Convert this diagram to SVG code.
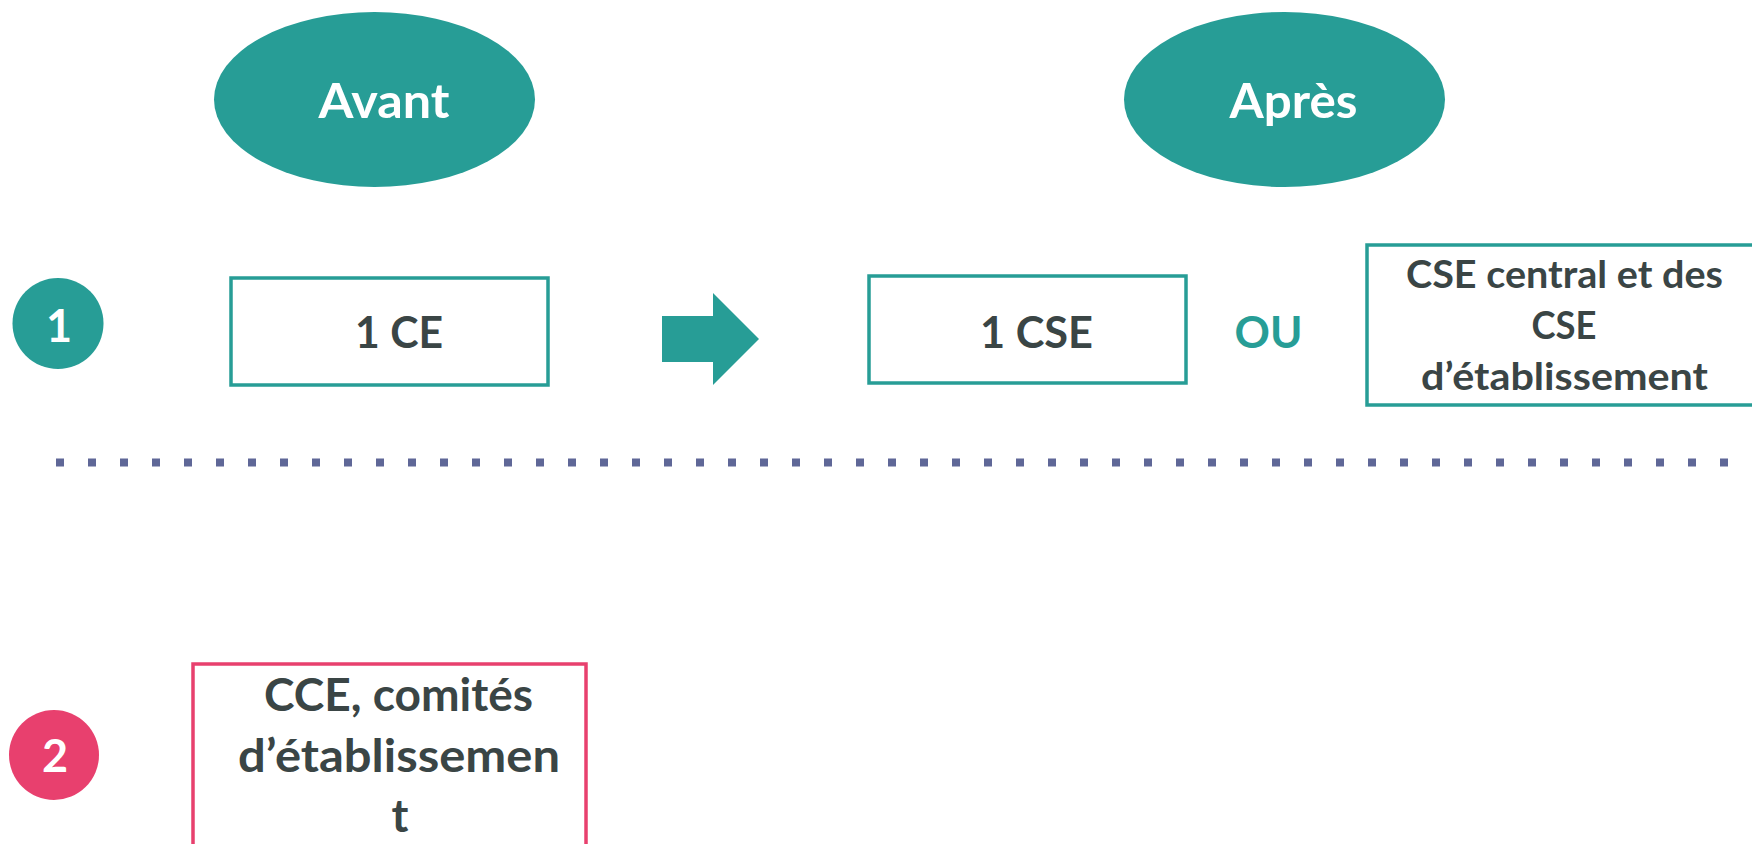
<svg xmlns="http://www.w3.org/2000/svg" width="1752" height="844" viewBox="0 0 1752 844">
  <style>
    .t { font-family: Lato, "Open Sans", "Liberation Sans", sans-serif; font-weight: bold; text-anchor: middle; }
    .w { fill: #ffffff; }
    .d { fill: #3a4545; }
    .teal { fill: #279d96; }
    .box-teal { fill: #ffffff; stroke: #279d96; stroke-width: 3.5; }
    .box-pink { fill: #ffffff; stroke: #e8406e; stroke-width: 3.5; }
  </style>
  <rect width="1752" height="844" fill="#ffffff"/>

  <g id="separator">
    <line x1="56" y1="462.5" x2="1730" y2="462.5" stroke="#5f6797" stroke-width="8" stroke-dasharray="8 24"/>
  </g>

  <g id="avant">
    <ellipse cx="374.5" cy="99.5" rx="160.5" ry="87.5" class="teal"/>
    <text x="384" y="118" class="t w" font-size="47" textLength="131" lengthAdjust="spacingAndGlyphs">Avant</text>
  </g>

  <g id="apres">
    <ellipse cx="1284.5" cy="99.5" rx="160.5" ry="87.5" class="teal"/>
    <text x="1293.5" y="118" class="t w" font-size="47" textLength="128" lengthAdjust="spacingAndGlyphs">Après</text>
  </g>

  <g id="num1">
    <circle cx="58" cy="323.5" r="45.5" class="teal"/>
    <text x="59" y="342" class="t w" font-size="45">1</text>
  </g>

  <g id="ce">
    <rect x="231" y="278" width="317" height="107" class="box-teal"/>
    <text x="399" y="348" class="t d" font-size="44" textLength="88" lengthAdjust="spacingAndGlyphs">1 CE</text>
  </g>

  <g id="connectors">
    <polygon points="662,316 713,316 713,293 759,339 713,385 713,362 662,362" fill="#279d96"/>
  </g>

  <g id="cse">
    <rect x="869" y="276" width="317" height="107" class="box-teal"/>
    <text x="1036.5" y="348" class="t d" font-size="44" textLength="113" lengthAdjust="spacingAndGlyphs">1 CSE</text>
  </g>

  <g id="ou">
    <text x="1268.5" y="348" class="t teal" font-size="44" textLength="68" lengthAdjust="spacingAndGlyphs">OU</text>
  </g>

  <g id="cse-central">
    <rect x="1367" y="245" width="400" height="160" class="box-teal"/>
    <text x="1564.5" y="288" class="t d" font-size="38" textLength="317" lengthAdjust="spacingAndGlyphs">CSE central et des</text>
    <text x="1564" y="339" class="t d" font-size="38" textLength="65" lengthAdjust="spacingAndGlyphs">CSE</text>
    <text x="1564.5" y="390" class="t d" font-size="38" textLength="287" lengthAdjust="spacingAndGlyphs">d’établissement</text>
  </g>

  <g id="num2">
    <circle cx="54" cy="755" r="45" fill="#e8406e"/>
    <text x="55" y="772" class="t w" font-size="45">2</text>
  </g>

  <g id="cce">
    <rect x="193" y="664" width="393" height="200" class="box-pink"/>
    <text x="398.5" y="711" class="t d" font-size="45.5" textLength="269" lengthAdjust="spacingAndGlyphs">CCE, comités</text>
    <text x="399" y="772" class="t d" font-size="45.5" textLength="322" lengthAdjust="spacingAndGlyphs">d’établissemen</text>
    <text x="400" y="832" class="t d" font-size="45.5">t</text>
  </g>
</svg>
